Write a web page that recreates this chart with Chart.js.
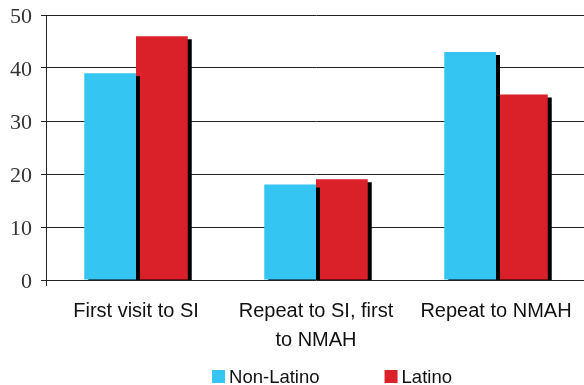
<!DOCTYPE html>
<html>
<head>
<meta charset="utf-8">
<script src="https://cdn.jsdelivr.net/npm/chart.js@4/dist/chart.umd.min.js"></script>
<style>
  html, body { margin: 0; padding: 0; background: #fff; overflow: hidden; }
  #wrap { width: 590px; height: 385px; }
</style>
</head>
<body>
<div id="wrap"><canvas id="c"></canvas></div>
<script>
// Visitor groups along the x axis
const categories = [
  'First visit to SI',
  ['Repeat to SI, first', 'to NMAH'],
  'Repeat to NMAH'
];
// Percent of visitors in each group
const nonLatino = [39, 18, 43];
const latino = [46, 19, 35];
// Y axis range
const yMin = 0;
const yMax = 50;
const yStep = 10;

// Draws each dataset with a hard black drop shadow down and to the right
const dropShadow = {
  id: 'dropShadow',
  beforeDatasetDraw(chart) {
    const ctx = chart.ctx;
    ctx.save();
    ctx.shadowColor = '#000';
    ctx.shadowBlur = 0;
    ctx.shadowOffsetX = 4;
    ctx.shadowOffsetY = 3;
  },
  afterDatasetDraw(chart) {
    chart.ctx.restore();
  }
};

// Compact legend row under the axis labels: square swatch, short gap, label
const swatchLegend = {
  id: 'swatchLegend',
  afterDraw(chart, _args, opts) {
    const ctx = chart.ctx;
    ctx.save();
    ctx.font = opts.font;
    ctx.textBaseline = 'middle';
    ctx.textAlign = 'left';
    const items = chart.data.datasets.map(ds => ({
      text: ds.label,
      color: ds.backgroundColor,
      w: opts.box + opts.textGap + ctx.measureText(ds.label).width
    }));
    const total = items.reduce((s, it) => s + it.w, 0) + opts.itemGap * (items.length - 1);
    let x = opts.centerX - total / 2;
    const y = opts.centerY;
    items.forEach(it => {
      ctx.fillStyle = it.color;
      ctx.fillRect(x, y - opts.box / 2, opts.box, opts.box);
      ctx.fillStyle = opts.color;
      ctx.fillText(it.text, x + opts.box + opts.textGap, y + 1);
      x += it.w + opts.itemGap;
    });
    ctx.restore();
  }
};

new Chart(document.getElementById('c'), {
  type: 'bar',
  data: {
    labels: categories,
    datasets: [
      { label: 'Non-Latino', data: nonLatino, backgroundColor: '#35C5F3' },
      { label: 'Latino', data: latino, backgroundColor: '#DA2028' }
    ]
  },
  plugins: [dropShadow, swatchLegend],
  options: {
    responsive: true,
    maintainAspectRatio: false,
    animation: false,
    layout: { padding: { top: 0, right: 4, left: 0, bottom: 0 } },
    datasets: {
      bar: { categoryPercentage: 0.575, barPercentage: 1.0 }
    },
    plugins: {
      tooltip: { enabled: false },
      legend: { display: false },
      swatchLegend: {
        font: '18.5px "Liberation Sans"',
        color: '#111',
        box: 13,
        textGap: 4,
        itemGap: 65,
        centerX: 332,
        centerY: 376.5
      }
    },
    scales: {
      x: {
        offset: true,
        grid: {
          offset: true,
          drawOnChartArea: false,
          tickLength: 6,
          color: (c) => c.index === 0 ? '#222' : 'rgba(0,0,0,0)'
        },
        border: { display: false },
        ticks: {
          color: '#111',
          padding: 11,
          maxRotation: 0,
          autoSkip: false,
          font: { family: 'Liberation Sans', size: 20, lineHeight: 1.45 }
        },
        afterFit(scale) { scale.height = 105; }
      },
      y: {
        min: yMin,
        max: yMax,
        ticks: {
          stepSize: yStep,
          color: '#333',
          padding: 9,
          labelOffset: 2,
          font: { family: 'Liberation Serif', size: 22 }
        },
        grid: { color: '#222', lineWidth: 1, tickLength: 5 },
        border: { color: '#222', width: 1 },
        afterFit(scale) {
          scale.width = 46;
          scale.paddingTop = 15;
          scale.paddingBottom = 0;
        }
      }
    }
  }
});
</script>
</body>
</html>
